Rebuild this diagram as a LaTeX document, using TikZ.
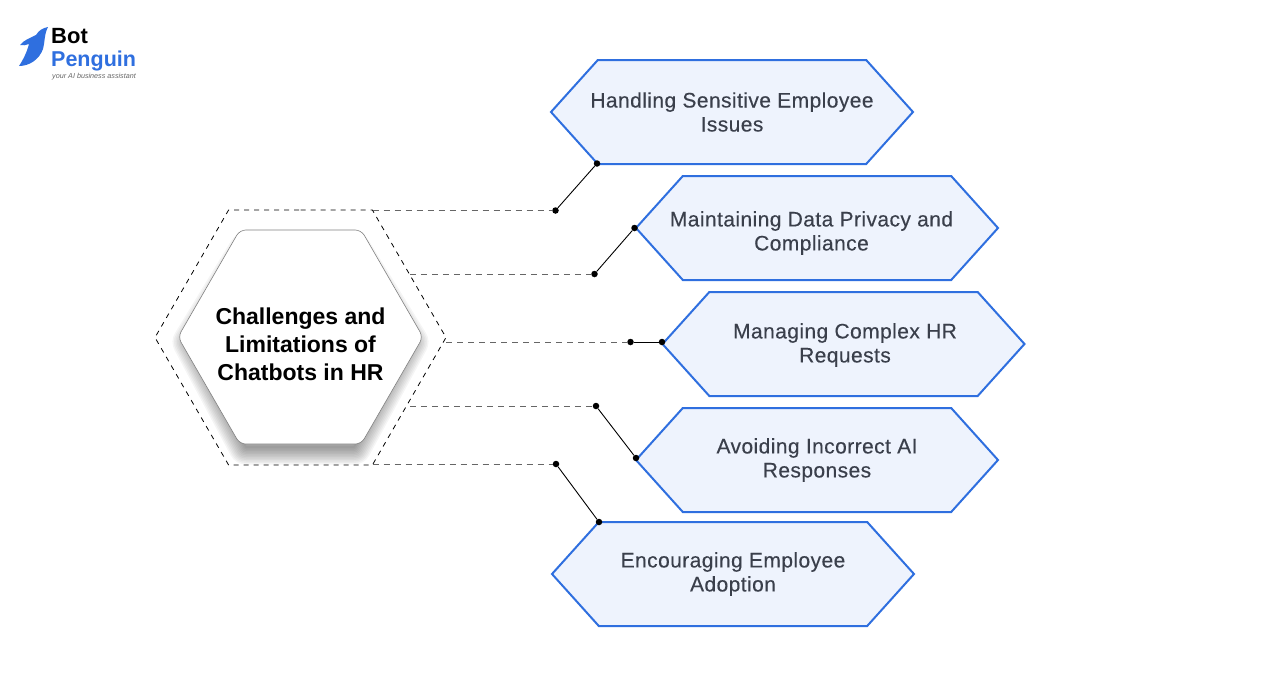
\documentclass[tikz,border=0pt]{standalone}
\usepackage{fontspec}
\setmainfont{Liberation Sans}
\newfontfamily\hexfont[LetterSpace=2,FakeBold=0.25]{Liberation Sans}
\usetikzlibrary{shapes.symbols, positioning}
\definecolor{hexblue}{HTML}{2F6FDF}
\definecolor{hexfill}{HTML}{EEF3FD}
\definecolor{hextext}{HTML}{3A3F4B}
\definecolor{dashgray}{HTML}{666666}
\tikzset{
	hexbox/.style={signal, signal to=east and west, signal pointer angle=96, draw=hexblue, fill=hexfill, line width=2pt, text=hextext, minimum width=362pt, minimum height=104pt, inner ysep=0pt, inner xsep=-12pt, align=center, font=\hexfont\fontsize{21}{24}\selectfont},
	hexlabel/.style={text=hextext, inner sep=0pt, align=center, font=\hexfont\fontsize{21}{24}\selectfont},
	dotnode/.style={circle, fill=black, inner sep=0pt, minimum size=6.5pt},
	dashline/.style={dashed, dash pattern=on 6pt off 5pt, draw=dashgray, line width=1pt},
	solidline/.style={black, line width=0.9pt},
}
\begin{document}
\begin{tikzpicture}[x=1pt, y=-1pt]
	\useasboundingbox (0,0) rectangle (1288,686);
	%Logo
	\fill[hexblue] (48,27) .. controls (43,28) and (39,30) .. (36,35) .. controls (30,38) and (24,40) .. (20,45) .. controls (23,46) and (26,45) .. (29,44) .. controls (27,52) and (23,60) .. (19,66) .. controls (29,66) and (39,60) .. (43,49) .. controls (45,42) and (44,35) .. (48,27) -- cycle;
	\node[anchor=base west, inner sep=0pt, font=\fontsize{22}{22}\selectfont\bfseries] (bot) at (51,43) {Bot};
	\node[anchor=base west, inner sep=0pt, text=hexblue, font=\fontsize{21.5}{22}\selectfont\bfseries] (penguin) at (51,66.5) {Penguin};
	\node[anchor=west, inner sep=0pt, text=dashgray, font=\fontsize{7.2}{8}\selectfont\itshape] (tagline) at (52,77) {your AI business assistant};

	%Centro
	\node[signal, signal to=east and west, signal pointer angle=120, draw, dashed, dash pattern=on 5pt off 5pt, line width=0.8pt, minimum width=291pt, minimum height=255pt, inner sep=0pt] (outer) at (300.5,337.5) {};
	\foreach \w in {2,5,...,35}
		\draw[black, opacity=0.04, line width=\w pt, line join=round] (190,342) -- (246,250) -- (354,250) -- (411,342) -- (354,447) -- (246,447) -- cycle;
	\node[signal, signal to=east and west, signal pointer angle=120, draw=gray, fill=white, rounded corners=6pt, line width=0.6pt, minimum width=245pt, minimum height=214pt, inner sep=0pt] (center) at (300.5,337) {};
	\node[inner sep=0pt, align=center, font=\fontsize{23}{28}\selectfont\bfseries] (centerlabel) at (300.5,344) {Challenges and\\Limitations of\\Chatbots in HR};

	%Hexagonos
	\node[hexbox] (handling) at (732,112) {Handling Sensitive Employee\\Issues};
	\node[hexbox, below=10pt of handling, xshift=85pt] (privacy) {};
	\node[hexlabel] (privacylabel) at ([shift={(-5.5,5)}]privacy.center) {Maintaining Data Privacy and\\Compliance};
	\node[hexbox, below=10pt of privacy, xshift=26.5pt] (requests) {};
	\node[hexlabel] (requestslabel) at ([shift={(1.5,1)}]requests.center) {Managing Complex HR\\Requests};
	\node[hexbox, below=10pt of requests, xshift=-26.5pt] (responses) {Avoiding Incorrect AI\\Responses};
	\node[hexbox, below=8pt of responses, xshift=-84pt] (adoption) {Encouraging Employee\\Adoption};

	%Puntos
	\node[dotnode] (d1a) at (555.5,210.5) {};
	\node[dotnode] (d1b) at (597,163.5) {};
	\node[dotnode] (d2a) at (594.5,274) {};
	\node[dotnode] (d2b) at (634.5,228) {};
	\node[dotnode] (d3a) at (630.5,342) {};
	\node[dotnode] (d3b) at (662,342) {};
	\node[dotnode] (d4a) at (596,406) {};
	\node[dotnode] (d4b) at (636,458) {};
	\node[dotnode] (d5a) at (556,464) {};
	\node[dotnode] (d5b) at (599,522) {};

	%Lineas
	\draw[dashline] (outer.north east |- d1a) -- (d1a);
	\draw[dashline] (outer.30 |- d2a) -- (d2a);
	\draw[dashline] (outer.east |- d3a) -- (d3a);
	\draw[dashline] (outer.-30 |- d4a) -- (d4a);
	\draw[dashline] (outer.south east |- d5a) -- (d5a);
	\draw[solidline] (d1a) -- (d1b);
	\draw[solidline] (d2a) -- (d2b);
	\draw[solidline] (d3a) -- (d3b);
	\draw[solidline] (d4a) -- (d4b);
	\draw[solidline] (d5a) -- (d5b);
\end{tikzpicture}
\end{document}
